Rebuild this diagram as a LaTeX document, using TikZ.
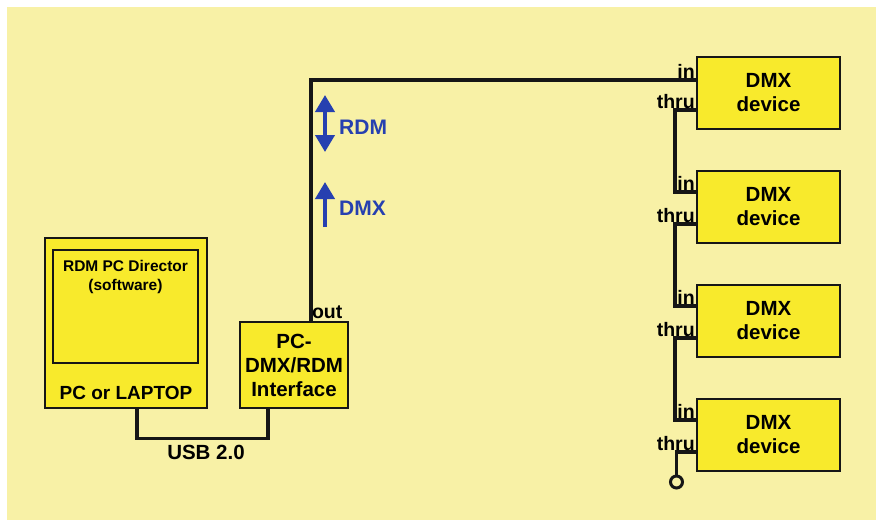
\documentclass[tikz,border=0pt]{standalone}
\usepackage{fontspec}
\setmainfont{Liberation Sans}
\usepackage{tikz}
\usetikzlibrary{arrows.meta, positioning, calc}
\definecolor{paleyellow}{RGB}{248,241,166}
\definecolor{boxyellow}{RGB}{248,234,44}
\definecolor{sigblue}{RGB}{38,64,176}
\definecolor{wire}{RGB}{22,22,22}

\begin{document}
\begin{tikzpicture}[
  x=1pt, y=-1pt,
  unit/.style={rectangle, draw=wire, line width=2.6pt, fill=boxyellow, align=center, inner sep=0pt, font=\bfseries\fontsize{20.5}{24}\selectfont},
  device/.style={unit, minimum width=143pt, minimum height=72pt},
  port/.style={inner xsep=0.8pt, inner ysep=1.5pt, font=\bfseries\fontsize{19.5}{20}\selectfont},
  cable/.style={draw=wire, line width=3.6pt},
  sig/.style={draw=sigblue, line width=4pt, -{Triangle[width=19pt, length=17pt]}},
  siglabel/.style={anchor=west, text=sigblue, font=\bfseries\fontsize{21}{22}\selectfont},
  term/.style={circle, draw=wire, line width=3pt, fill=paleyellow, minimum size=12pt, inner sep=0pt},
]
  \useasboundingbox (0,0) rectangle (876,520);
  \fill[paleyellow] (7,7) rectangle (876,520);

  % PC with software
  \node[unit, minimum width=162pt, minimum height=170pt] (pc) at (126,323) {};
  \node[unit, line width=2pt, minimum width=145pt, minimum height=113pt] (screen) at (125.5,306.5) {};
  \node[below=8pt of screen.north, align=center, font=\bfseries\fontsize{15.5}{19}\selectfont] (sw) {RDM PC Director\\(software)};
  \node[font=\bfseries\fontsize{19}{22}\selectfont] (pclabel) at (126,393) {PC or LAPTOP};

  % Interface
  \node[unit, minimum width=108pt, minimum height=86pt] (iface) at (294,365) {PC-\\DMX/RDM\\Interface};

  % DMX devices (right)
  \node[device] (dev1) at (768.5,93) {DMX\\device};
  \node[device, below=39.4pt of dev1] (dev2) {DMX\\device};
  \node[device, below=39.4pt of dev2] (dev3) {DMX\\device};
  \node[device, below=39.4pt of dev3] (dev4) {DMX\\device};

  % USB link
  \draw[cable] ([xshift=11pt]pc.south) -- ++(0,29) -| ([xshift=-26pt]iface.south);
  \node[font=\bfseries\fontsize{20.5}{22}\selectfont] (usb) at (206,452) {USB 2.0};

  % DMX line out to first device
  \draw[cable] ([xshift=17pt]iface.north) |- ([yshift=13pt]dev1.west);
  \node[port, anchor=south west] (out) at ([xshift=17pt]iface.north) {out};

  % daisy chain
  \draw[cable] ([yshift=-17pt]dev1.west) -- ++(-21,0) |- ([yshift=15pt]dev2.west);
  \draw[cable] ([yshift=-17pt]dev2.west) -- ++(-21,0) |- ([yshift=15pt]dev3.west);
  \draw[cable] ([yshift=-17pt]dev3.west) -- ++(-21,0) |- ([yshift=15pt]dev4.west);
  \node[term] (end) at (676.5,482) {};
  \draw[cable] ([yshift=-17pt]dev4.west) -| (end);

  \node[port, anchor=south east] (in1) at ([yshift=13pt]dev1.west) {in};
  \node[port, anchor=south east] (in2) at ([yshift=15pt]dev2.west) {in};
  \node[port, anchor=south east] (in3) at ([yshift=15pt]dev3.west) {in};
  \node[port, anchor=south east] (in4) at ([yshift=15pt]dev4.west) {in};
  \node[port, anchor=south east] (thru1) at ([yshift=-17pt]dev1.west) {thru};
  \node[port, anchor=south east] (thru2) at ([yshift=-17pt]dev2.west) {thru};
  \node[port, anchor=south east] (thru3) at ([yshift=-17pt]dev3.west) {thru};
  \node[port, anchor=south east] (thru4) at ([yshift=-17pt]dev4.west) {thru};

  % signal directions
  \coordinate (rdmtop) at (325,95);
  \coordinate (rdmbot) at (325,152);
  \coordinate (dmxtop) at (325,182);
  \coordinate (dmxbot) at (325,227);
  \draw[sig, {Triangle[width=19pt, length=17pt]}-{Triangle[width=19pt, length=17pt]}] (rdmtop) -- (rdmbot);
  \draw[sig] (dmxbot) -- (dmxtop);
  \node[siglabel, inner sep=0pt] (rdm) at (339,127) {RDM};
  \node[siglabel, inner sep=0pt] (dmx) at (339,208) {DMX};
\end{tikzpicture}
\end{document}
